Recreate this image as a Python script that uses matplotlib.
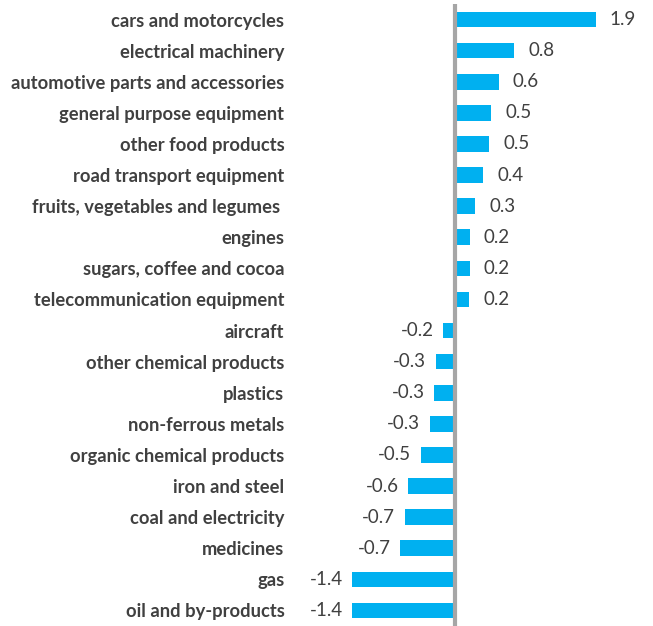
import matplotlib
matplotlib.use("Agg")
import matplotlib.pyplot as plt
import numpy as np

# product categories, top to bottom
CATEGORIES = [
    "cars and motorcycles",
    "electrical machinery",
    "automotive parts and accessories",
    "general purpose equipment",
    "other food products",
    "road transport equipment",
    "fruits, vegetables and legumes ",
    "engines",
    "sugars, coffee and cocoa",
    "telecommunication equipment",
    "aircraft",
    "other chemical products",
    "plastics",
    "non-ferrous metals",
    "organic chemical products",
    "iron and steel",
    "coal and electricity",
    "medicines",
    "gas",
    "oil and by-products",
]
VALUES = [1.9, 0.8, 0.59, 0.49, 0.46, 0.38, 0.27, 0.2, 0.2, 0.19,
          -0.16, -0.26, -0.28, -0.34, -0.46, -0.63, -0.68, -0.74, -1.39, -1.39]

BAR_COLOR = "#00B0F0"
TEXT_COLOR = "#404040"
ZERO_COLOR = "#A6A6A6"

plt.rcParams["font.family"] = ["Lato", "DejaVu Sans"]

fig = plt.figure(figsize=(6.53, 6.26), dpi=100)
ax = fig.add_axes([290 / 653, 0.0, 1 - 290 / 653, 1 - 4 / 626])

y = np.arange(len(CATEGORIES))
ax.barh(y, VALUES, height=0.5, color=BAR_COLOR, zorder=2)
ax.axvline(0, color=ZERO_COLOR, linewidth=3.0, zorder=3)

ax.set_xlim(-(455 - 290) / 74.0, (653 - 455) / 74.0)
ax.set_ylim(len(CATEGORIES) - 0.5, -0.5)

ax.set_yticks(y)
ax.set_yticklabels(CATEGORIES, fontsize=13.2, fontweight="bold", color=TEXT_COLOR)
ax.tick_params(axis="y", length=0, pad=4)
ax.set_xticks([])
for spine in ax.spines.values():
    spine.set_visible(False)

for yi, v in zip(y, VALUES):
    if v >= 0:
        ax.text(v + 0.19, yi, f"{v:.1f}", ha="left", va="center",
                fontsize=13.5, color=TEXT_COLOR)
    else:
        ax.text(v - 0.13, yi, f"{v:.1f}", ha="right", va="center",
                fontsize=13.5, color=TEXT_COLOR)

fig.savefig("out.png", dpi=100, facecolor="white")
